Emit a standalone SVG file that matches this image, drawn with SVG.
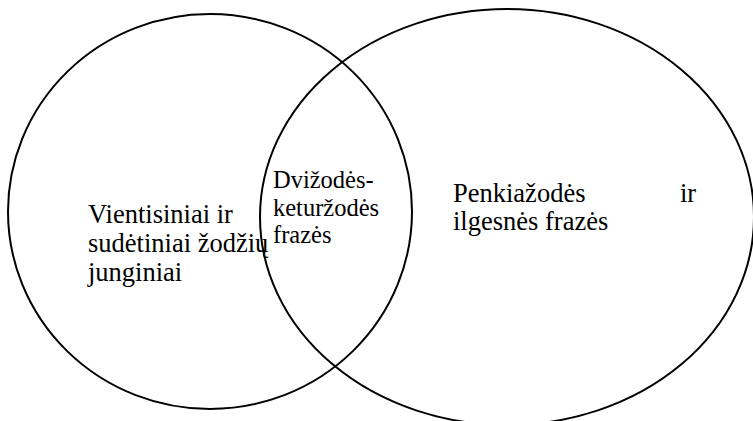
<svg xmlns="http://www.w3.org/2000/svg" width="753" height="421" viewBox="0 0 753 421">
<style>
.c{fill:none;stroke:#000;stroke-width:2}
text{font-family:'Liberation Serif','Times New Roman',serif;fill:#000}
.big{font-size:26.5px}
.mid{font-size:24.5px}
</style>
<rect width="753" height="421" fill="#fff"/>
<g id="set-left">
<ellipse class="c" cx="210" cy="211.5" rx="202" ry="197.5"/>
<text class="big" x="88" y="223">Vientisiniai ir</text>
<text class="big" x="88" y="252">sudėtiniai žodžių</text>
<text class="big" x="88" y="281">junginiai</text>
</g>
<g id="set-right">
<ellipse class="c" cx="507" cy="217" rx="247" ry="208"/>
<text class="big" x="453" y="202">Penkiažodės</text>
<text class="big" x="680" y="202">ir</text>
<text class="big" x="453" y="230">ilgesnės frazės</text>
</g>
<g id="intersection">
<text class="mid" x="273" y="188">Dvižodės-</text>
<text class="mid" x="273" y="215.5">keturžodės</text>
<text class="mid" x="273" y="242.5">frazės</text>
</g>
<g id="connectors"/>
</svg>
